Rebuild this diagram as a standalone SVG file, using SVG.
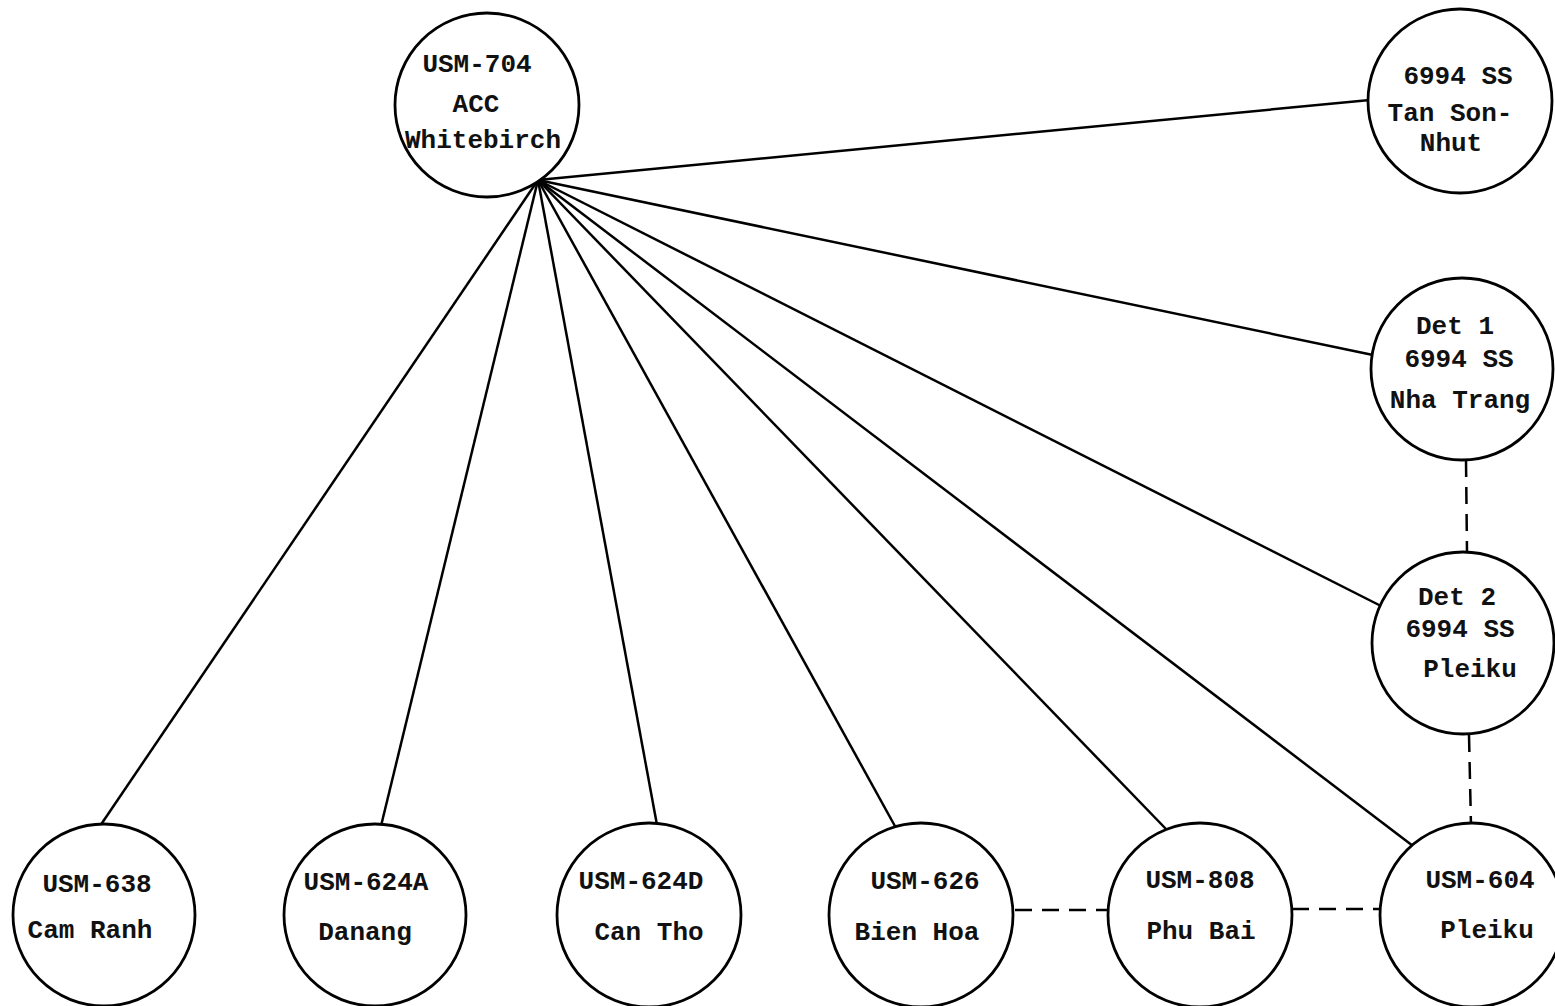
<svg xmlns="http://www.w3.org/2000/svg" width="1555" height="1006" viewBox="0 0 1555 1006">
<style>
.n circle{fill:#fff;stroke:#000;stroke-width:2.8}
.n text{font-family:"Liberation Mono","DejaVu Sans Mono",monospace;font-weight:bold;font-size:26px;fill:#111;text-anchor:middle}
.c line{stroke:#000;stroke-width:2.5;fill:none}
.c .d{stroke-dasharray:17,10}
</style>
<rect width="1555" height="1006" fill="#fff"/>
<g class="c" id="connectors">
<line x1="538" y1="180" x2="1370" y2="100"/>
<line x1="538" y1="180" x2="1373" y2="355"/>
<line x1="538" y1="180" x2="1383" y2="607"/>
<line x1="538" y1="180" x2="1413" y2="846"/>
<line x1="538" y1="180" x2="1166" y2="829"/>
<line x1="538" y1="180" x2="896" y2="828"/>
<line x1="538" y1="180" x2="657" y2="825"/>
<line x1="538" y1="180" x2="381" y2="826"/>
<line x1="538" y1="180" x2="100" y2="826"/>
<line class="d" x1="1466" y1="460" x2="1467" y2="552"/>
<line class="d" x1="1469" y1="735" x2="1471" y2="826"/>
<line class="d" x1="1015" y1="910" x2="1108" y2="910"/>
<line class="d" x1="1292" y1="909" x2="1382" y2="909"/>
</g>
<g class="n" id="usm704"><circle cx="487" cy="105" r="92"/>
<text x="477" y="72">USM-704</text><text x="476" y="112">ACC</text><text x="483" y="148">Whitebirch</text></g>
<g class="n" id="tsn"><circle cx="1460" cy="101" r="92"/>
<text x="1458" y="84">6994 SS</text><text x="1450" y="121">Tan Son-</text><text x="1451" y="151">Nhut</text></g>
<g class="n" id="det1"><circle cx="1462" cy="369" r="91"/>
<text x="1455" y="334">Det 1</text><text x="1459" y="367">6994 SS</text><text x="1460" y="408">Nha Trang</text></g>
<g class="n" id="det2"><circle cx="1463" cy="643" r="91"/>
<text x="1457" y="605">Det 2</text><text x="1460" y="637">6994 SS</text><text x="1470" y="677">Pleiku</text></g>
<g class="n" id="usm638"><circle cx="104" cy="915" r="91"/>
<text x="97" y="892">USM-638</text><text x="90" y="938">Cam Ranh</text></g>
<g class="n" id="usm624a"><circle cx="375" cy="915" r="91"/>
<text x="366" y="890">USM-624A</text><text x="365" y="940">Danang</text></g>
<g class="n" id="usm624d"><circle cx="649" cy="915" r="92"/>
<text x="641" y="889">USM-624D</text><text x="649" y="940">Can Tho</text></g>
<g class="n" id="usm626"><circle cx="921" cy="915" r="92"/>
<text x="925" y="889">USM-626</text><text x="917" y="940">Bien Hoa</text></g>
<g class="n" id="usm808"><circle cx="1200" cy="915" r="92"/>
<text x="1200" y="888">USM-808</text><text x="1201" y="939">Phu Bai</text></g>
<g class="n" id="usm604"><circle cx="1472" cy="915" r="92"/>
<text x="1480" y="888">USM-604</text><text x="1487" y="938">Pleiku</text></g>
</svg>
